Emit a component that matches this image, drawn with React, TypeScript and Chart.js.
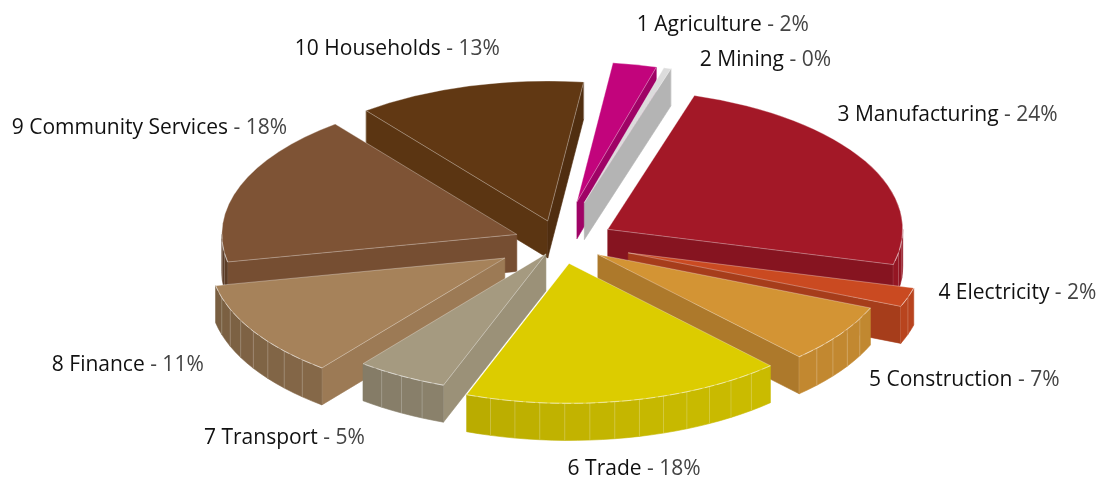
import React, { useEffect, useRef } from 'react';
import { Chart, registerables } from 'chart.js';

Chart.register(...registerables);

// sector shares of the economy, in percent
const sectors = [
  '1 Agriculture',
  '2 Mining',
  '3 Manufacturing',
  '4 Electricity',
  '5 Construction',
  '6 Trade',
  '7 Transport',
  '8 Finance',
  '9 Community Services',
  '10 Households',
];
const shares = [2.4, 0.4, 24.3, 2.2, 6.8, 17.6, 5.0, 11.2, 17.6, 12.5];

// look
const colors = ['#C2047C', '#DCDCDC', '#A31827', '#CA4A21', '#D39434', '#DCCC00', '#A59A80', '#A6825A', '#7E5335', '#613813'];
const explode = [60, 60, 38, 50, 32, 32, 20, 45, 32, 32];

const RX = 295;
const RY = 140;
const DEPTH = 37;
const FONT = '"Open Sans", "Noto Sans", sans-serif';
// hand placement of the labels, relative to the slice
const LABEL_NUDGE = [[-4, -15], [24, 16], [-54, -34], [2, -24], [4, 11], [1, 8], [-22, 8], [-24, 1], [75, -49], [39, -13]];

const shade = (hex: string, f: number) => {
  const n = parseInt(hex.slice(1), 16);
  const r = Math.min(255, Math.round(((n >> 16) & 255) * f));
  const g = Math.min(255, Math.round(((n >> 8) & 255) * f));
  const b = Math.min(255, Math.round((n & 255) * f));
  return `rgb(${r},${g},${b})`;
};
// wall shading, light from the front right
const light = (phi: number) => 0.8 + 0.12 * Math.cos(phi - (40 * Math.PI) / 180);

const slice = (arc: any, kx: number, ky: number) => {
  const a0 = arc.startAngle;
  const a1 = arc.endAngle;
  const m = (a0 + a1) / 2;
  const e = arc.options.offset || 0;
  return { a0, a1, m, e, ax: arc.x + Math.cos(m) * e * kx, ay: arc.y + Math.sin(m) * e * ky };
};

const pie3d = {
  id: 'pie3d',
  beforeDatasetsDraw(chart: any) {
    const ctx = chart.ctx;
    const arcs = chart.getDatasetMeta(0).data;
    if (!arcs.length) return false;
    const R = arcs[0].outerRadius;
    const kx = RX / R;
    const ky = RY / R;
    const items = arcs.map((arc: any, i: number) => ({ i, g: slice(arc, kx, ky) }));
    items.sort((p: any, q: any) => Math.sin(p.g.m) - Math.sin(q.g.m));

    ctx.save();
    ctx.lineJoin = 'round';
    items.forEach(({ i, g }: any) => {
      const col = colors[i];
      const px = (t: number) => g.ax + Math.cos(t) * RX;
      const py = (t: number) => g.ay + Math.sin(t) * RY;

      // cut faces
      const face = (t: number, f: number) => {
        ctx.beginPath();
        ctx.moveTo(g.ax, g.ay);
        ctx.lineTo(px(t), py(t));
        ctx.lineTo(px(t), py(t) + DEPTH);
        ctx.lineTo(g.ax, g.ay + DEPTH);
        ctx.closePath();
        ctx.fillStyle = shade(col, f);
        ctx.strokeStyle = ctx.fillStyle;
        ctx.lineWidth = 0.6;
        ctx.fill();
        ctx.stroke();
        ctx.beginPath();
        ctx.moveTo(px(t), py(t));
        ctx.lineTo(px(t), py(t) + DEPTH);
        ctx.strokeStyle = 'rgba(255,255,255,0.35)';
        ctx.lineWidth = 0.7;
        ctx.stroke();
      };
      if (Math.cos(g.a0) < 0) face(g.a0, 0.94);
      if (Math.cos(g.a1) > 0) face(g.a1, 0.82);

      // outer wall, in facets
      const t0 = Math.max(g.a0, 0);
      const t1 = Math.min(g.a1, Math.PI);
      if (t1 > t0) {
        const n = Math.max(1, Math.ceil((t1 - t0) / 0.09));
        for (let k = 0; k < n; k++) {
          const s = t0 + ((t1 - t0) * k) / n;
          const u = t0 + ((t1 - t0) * (k + 1)) / n;
          ctx.beginPath();
          ctx.ellipse(g.ax, g.ay, RX, RY, 0, s, u);
          ctx.ellipse(g.ax, g.ay + DEPTH, RX, RY, 0, u, s, true);
          ctx.closePath();
          ctx.fillStyle = shade(col, light((s + u) / 2));
          ctx.strokeStyle = ctx.fillStyle;
          ctx.lineWidth = 0.6;
          ctx.fill();
          ctx.stroke();
        }
        ctx.strokeStyle = 'rgba(255,255,255,0.3)';
        ctx.lineWidth = 0.7;
        for (let k = 1; k < n; k++) {
          const s = t0 + ((t1 - t0) * k) / n;
          ctx.beginPath();
          ctx.moveTo(px(s), py(s));
          ctx.lineTo(px(s), py(s) + DEPTH);
          ctx.stroke();
        }
      }

      // top
      ctx.beginPath();
      ctx.moveTo(g.ax, g.ay);
      ctx.ellipse(g.ax, g.ay, RX, RY, 0, g.a0, g.a1);
      ctx.closePath();
      ctx.fillStyle = col;
      ctx.fill();
      ctx.strokeStyle = 'rgba(255,255,255,0.4)';
      ctx.lineWidth = 0.8;
      ctx.stroke();
      if (t1 > t0) {
        ctx.beginPath();
        ctx.ellipse(g.ax, g.ay, RX, RY, 0, t0, t1);
        ctx.setLineDash([9, 3]);
        ctx.strokeStyle = 'rgba(255,255,255,0.5)';
        ctx.stroke();
        ctx.setLineDash([]);
      }
    });
    ctx.restore();
    return false;
  },
  afterDraw(chart: any) {
    const ctx = chart.ctx;
    const arcs = chart.getDatasetMeta(0).data;
    if (!arcs.length) return;
    const R = arcs[0].outerRadius;
    const kx = RX / R;
    const ky = RY / R;
    ctx.save();
    ctx.font = `21px ${FONT}`;
    ctx.textBaseline = 'middle';
    ctx.textAlign = 'left';
    arcs.forEach((arc: any, i: number) => {
      const g = slice(arc, kx, ky);
      const c = Math.cos(g.m);
      const s = Math.sin(g.m);
      const x = arc.x + c * (RX + g.e * kx + 30) + LABEL_NUDGE[i][0];
      const y = arc.y + s * (RY + g.e * ky + 25) + (s > 0 ? DEPTH * s : 0) + LABEL_NUDGE[i][1];
      const name = sectors[i];
      const pct = ` - ${Math.round(shares[i])}%`;
      const w1 = ctx.measureText(name).width;
      const w2 = ctx.measureText(pct).width;
      let x0 = x;
      if (s > 0.9) x0 = x - (w1 + w2) / 2;
      else if (c < 0) x0 = x - w1 - w2;
      ctx.fillStyle = '#111';
      ctx.fillText(name, x0, y);
      ctx.fillStyle = '#444';
      ctx.fillText(pct, x0 + w1, y);
    });
    ctx.restore();
  },
};

const App = () => {
  const canvasRef = useRef<HTMLCanvasElement>(null);

  useEffect(() => {
    const chart = new Chart(canvasRef.current as HTMLCanvasElement, {
      type: 'pie',
      data: {
        labels: sectors,
        datasets: [
          {
            data: shares,
            backgroundColor: colors,
            offset: explode,
            hoverOffset: 0,
            borderWidth: 0,
          },
        ],
      },
      options: {
        animation: false,
        responsive: true,
        maintainAspectRatio: false,
        rotation: 7,
        events: [],
        layout: { padding: { left: 22, top: 7 } },
        plugins: {
          legend: { display: false },
          tooltip: { enabled: false },
        },
      },
      plugins: [pie3d],
    });

    return () => chart.destroy();
  }, []);

  return (
    <div style={{ position: 'fixed', left: 0, top: 0, width: 1098, height: 477, background: '#fff' }}>
      <canvas ref={canvasRef} />
    </div>
  );
};

export default App;
